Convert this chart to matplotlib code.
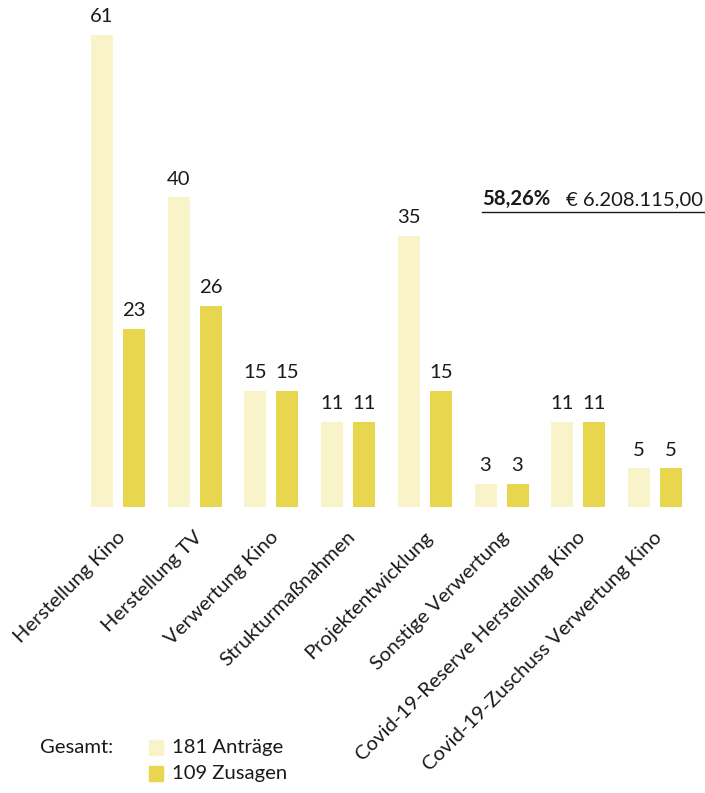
import matplotlib
matplotlib.use("Agg")
import matplotlib.pyplot as plt
import numpy as np

plt.rcParams['font.family'] = ['Lato', 'DejaVu Sans']

categories = ["Herstellung Kino", "Herstellung TV", "Verwertung Kino", "Strukturmaßnahmen",
              "Projektentwicklung", "Sonstige Verwertung", "Covid-19-Reserve Herstellung Kino",
              "Covid-19-Zuschuss Verwertung Kino"]
antraege = [61, 40, 15, 11, 35, 3, 11, 5]
zusagen = [23, 26, 15, 11, 15, 3, 11, 5]
legend_labels = ["181 Anträge", "109 Zusagen"]
share_text = "58,26%"
amount_text = "€ 6.208.115,00"

c_light = "#F8F3C8"
c_dark = "#E8D64E"
txt = "#1a1a1a"
FS = 14.6

W, H = 705, 793
fig = plt.figure(figsize=(W / 100, H / 100), dpi=100)
ax = fig.add_axes([0, 0, 1, 1])
ax.set_axis_off()

# pixel mapping
x0_px, step_px = 118.0, 76.7
base_px, unit_px = 507.0, 7.74
ax.set_xlim(-x0_px / step_px, (W - x0_px) / step_px)
ax.set_ylim(-(H - base_px) / unit_px, base_px / unit_px)

x = np.arange(len(categories))
bw = 22 / step_px
off = 16 / step_px
b1 = ax.bar(x - off, antraege, width=bw, color=c_light)
b2 = ax.bar(x + off, zusagen, width=bw, color=c_dark)

for bars, vals in ((b1, antraege), (b2, zusagen)):
    for r, v in zip(bars, vals):
        ax.annotate(str(v), (r.get_x() + r.get_width() / 2, v), xytext=(0, 7),
                    textcoords="offset points", ha="center", va="bottom",
                    fontsize=FS, color=txt)

for xi, lab in zip(x, categories):
    ax.annotate(lab, (xi, 0), xytext=(-1, -15.5), textcoords="offset points",
                rotation=45, rotation_mode="anchor", ha="right", va="top",
                fontsize=FS, color=txt)

# summary annotation
fig.text(482 / W, 1 - 205 / H, share_text, fontsize=FS, fontweight="bold",
         color=txt, ha="left", va="baseline")
fig.text(703 / W, 1 - 205 / H, amount_text, fontsize=FS,
         color=txt, ha="right", va="baseline")
fig.add_artist(plt.Line2D([482 / W, 705 / W], [1 - 212 / H, 1 - 212 / H],
                          color=txt, lw=1.0))

# legend
fig.text(40 / W, 1 - 753 / H, "Gesamt:", fontsize=FS, color=txt,
         ha="left", va="baseline")
for i, (lab, col) in enumerate(zip(legend_labels, [c_light, c_dark])):
    ytop = 740 + i * 26
    fig.add_artist(plt.Rectangle((149 / W, 1 - (ytop + 15) / H), 14 / W, 15 / H,
                                 color=col, transform=fig.transFigure))
    fig.text(172 / W, 1 - (ytop + 13) / H, lab, fontsize=FS, color=txt,
             ha="left", va="baseline")

fig.savefig("out.png", dpi=100)
